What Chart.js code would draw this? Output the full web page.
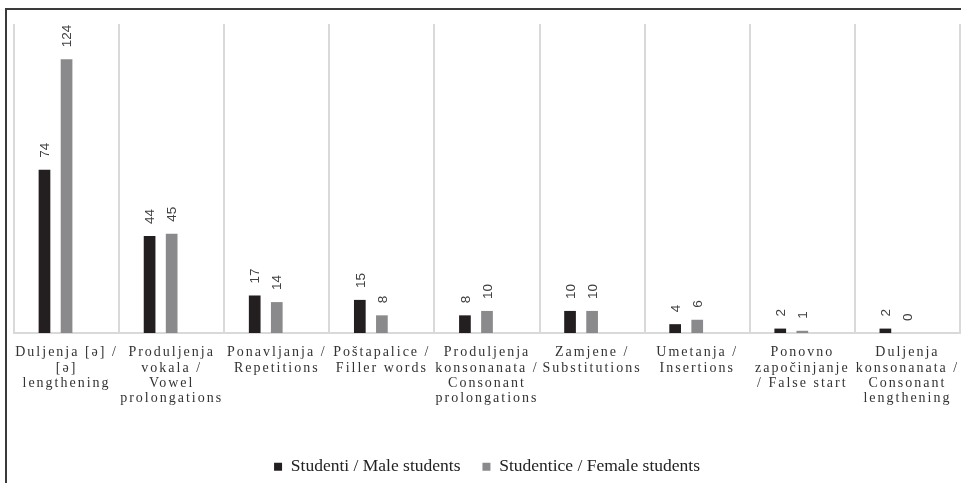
<!DOCTYPE html>
<html>
<head>
<meta charset="utf-8">
<script src="https://cdn.jsdelivr.net/npm/chart.js@4.4.1/dist/chart.umd.min.js"></script>
<style>
  html, body { margin: 0; padding: 0; background: #fff; }
  #wrap { width: 961px; height: 483px; position: relative; }
</style>
</head>
<body>
<div id="wrap"><canvas id="myChart"></canvas></div>
<script>
var categories = [
  ['Duljenja [ə] /', '[ə]', 'lengthening'],
  ['Produljenja', 'vokala /', 'Vowel', 'prolongations'],
  ['Ponavljanja /', 'Repetitions'],
  ['Poštapalice /', 'Filler words'],
  ['Produljenja', 'konsonanata /', 'Consonant', 'prolongations'],
  ['Zamjene /', 'Substitutions'],
  ['Umetanja /', 'Insertions'],
  ['Ponovno', 'započinjanje', '/ False start'],
  ['Duljenja', 'konsonanata /', 'Consonant', 'lengthening']
];
var maleStudents = [74, 44, 17, 15, 8, 10, 4, 2, 2];
var femaleStudents = [124, 45, 14, 8, 10, 10, 6, 1, 0];
// empty third slot, the original leaves room for it in every group
var emptySlot = [null, null, null, null, null, null, null, null, null];
var seriesNames = ['Studenti / Male students', 'Studentice / Female students'];
var seriesColors = ['#231f20', '#8a8a8c'];
var yMax = 140;

// outer frame + white background
var framePlugin = {
  id: 'frame',
  beforeDraw: function(chart) {
    var ctx = chart.ctx;
    ctx.save();
    ctx.fillStyle = '#fff';
    ctx.fillRect(0, 0, chart.width, chart.height);
    ctx.fillStyle = '#3a3a3a';
    ctx.fillRect(5, 8, 2, chart.height);
    ctx.fillRect(5, 8, chart.width, 2);
    ctx.restore();
  }
};

// spaced-out category labels
var spacedLabels = {
  id: 'spacedLabels',
  afterUpdate: function(chart) {
    var xs = chart.scales.x;
    if (xs._spaced) return;
    var orig = xs.drawLabels;
    xs.drawLabels = function(area) {
      this.ctx.save();
      this.ctx.letterSpacing = '2px';
      orig.call(this, area);
      this.ctx.restore();
    };
    xs._spaced = true;
  }
};

// rotated value labels above the bars
var valueLabels = {
  id: 'valueLabels',
  afterDatasetsDraw: function(chart) {
    var ctx = chart.ctx;
    ctx.save();
    ctx.font = '13.5px "Liberation Sans"';
    ctx.fillStyle = '#404040';
    ctx.textAlign = 'left';
    ctx.textBaseline = 'middle';
    for (var d = 0; d < 2; d++) {
      var meta = chart.getDatasetMeta(d);
      for (var i = 0; i < meta.data.length; i++) {
        var bar = meta.data[i];
        ctx.save();
        ctx.translate(bar.x + 1, bar.y - 12);
        ctx.rotate(-Math.PI / 2);
        ctx.fillText(String(chart.data.datasets[d].data[i]), 0, 0);
        ctx.restore();
      }
    }
    ctx.restore();
  }
};

var ctx = document.getElementById('myChart').getContext('2d');
var myChart = new Chart(ctx, {
  type: 'bar',
  data: {
    labels: categories,
    datasets: [
      { label: seriesNames[0], data: maleStudents, backgroundColor: seriesColors[0] },
      { label: seriesNames[1], data: femaleStudents, backgroundColor: seriesColors[1] },
      { label: '', data: emptySlot, backgroundColor: 'rgba(0,0,0,0)' }
    ]
  },
  options: {
    responsive: true,
    maintainAspectRatio: false,
    animation: false,
    layout: { padding: { left: 14, right: 1, top: 24, bottom: 0 } },
    datasets: { bar: { categoryPercentage: 0.63, barPercentage: 0.53 } },
    scales: {
      x: {
        grid: { offset: true, color: '#d9d9d9', lineWidth: 2, drawTicks: false },
        border: { color: '#d9d9d9', width: 2 },
        ticks: {
          maxRotation: 0, autoSkip: false, padding: 12, color: '#333',
          font: { family: '"Liberation Serif"', size: 14, lineHeight: 1.09 }
        },
        afterFit: function(scale) { scale.height = 103; }
      },
      y: { display: false, min: 0, max: yMax }
    },
    plugins: {
      tooltip: { enabled: false },
      legend: {
        position: 'bottom',
        maxHeight: 47,
        labels: {
          boxWidth: 8, boxHeight: 8, padding: 22, color: '#222',
          font: { family: '"Liberation Serif"', size: 17.5 },
          filter: function(item) { return item.datasetIndex < 2; }
        }
      }
    }
  },
  plugins: [framePlugin, spacedLabels, valueLabels]
});
</script>
</body>
</html>
